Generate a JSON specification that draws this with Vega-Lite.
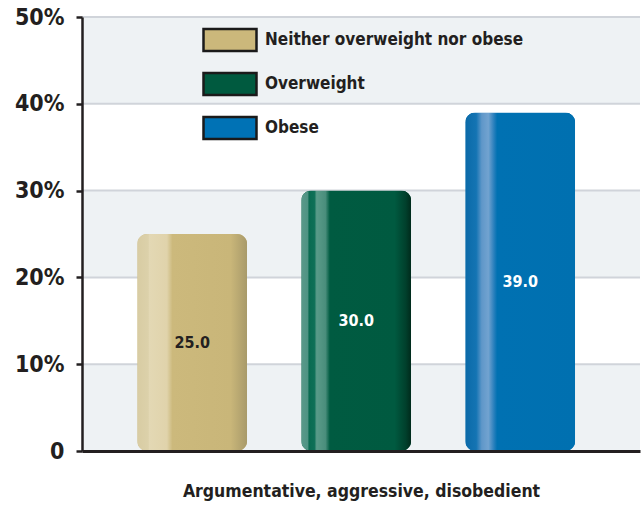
{
  "$schema": "https://vega.github.io/schema/vega-lite/v6.json",
  "width": 558,
  "height": 434,
  "autosize": "none",
  "padding": {"left": 82, "top": 17, "right": 2, "bottom": 58},
  "background": "white",
  "datasets": {
    "main": [
      {"category": "Neither overweight nor obese", "value": 25.0},
      {"category": "Overweight", "value": 30.0},
      {"category": "Obese", "value": 39.0}
    ],
    "bands": [
      {"lo": 0, "hi": 10},
      {"lo": 20, "hi": 30},
      {"lo": 40, "hi": 50}
    ],
    "grid": [{"g": 10}, {"g": 20}, {"g": 30}, {"g": 40}, {"g": 50}]
  },
  "config": {
    "view": {"stroke": null},
    "font": "DejaVu Sans Condensed, Open Sans, sans-serif",
    "legend": {
      "orient": "none",
      "legendX": 120,
      "legendY": -5,
      "symbolType": "M-1,-0.415H1V0.415H-1Z",
      "symbolSize": 2809,
      "symbolStrokeColor": "#1a1a1a",
      "symbolStrokeWidth": 2.5,
      "symbolOpacity": 1,
      "labelFont": "DejaVu Sans Condensed, Open Sans, sans-serif",
      "labelFontSize": 17,
      "labelFontWeight": "bold",
      "labelColor": "#231f20",
      "labelOffset": 7,
      "labelLimit": 400,
      "rowPadding": -10
    }
  },
  "layer": [
    {
      "data": {"name": "bands"},
      "mark": {"type": "rect", "color": "#eef2f4"},
      "encoding": {
        "y": {"field": "lo", "type": "quantitative"},
        "y2": {"field": "hi"}
      }
    },
    {
      "data": {"name": "grid"},
      "mark": {"type": "rule", "color": "#d0d4da", "strokeWidth": 2},
      "encoding": {
        "y": {"field": "g", "type": "quantitative"}
      }
    },
    {
      "data": {"name": "main"},
      "mark": {"type": "bar", "cornerRadius": 10},
      "encoding": {
        "x": {
          "field": "category",
          "type": "nominal",
          "sort": null,
          "scale": {"paddingInner": 0.33, "paddingOuter": 0.366, "align": 0.46},
          "axis": {
            "title": "Argumentative, aggressive, disobedient",
            "titleFont": "DejaVu Sans Condensed, Open Sans, sans-serif",
            "titleFontSize": 17.5,
            "titleFontWeight": "bold",
            "titleColor": "#231f20",
            "titlePadding": 31,
            "labels": false,
            "ticks": false,
            "domainColor": "#231f20",
            "domainWidth": 3,
            "zindex": 1
          }
        },
        "y": {
          "field": "value",
          "type": "quantitative",
          "scale": {"domain": [0, 50]},
          "axis": {
            "title": null,
            "values": [0, 10, 20, 30, 40, 50],
            "labelExpr": "datum.value == 0 ? '0' : datum.value + '%'",
            "labelFont": "DejaVu Sans Condensed, Open Sans, sans-serif",
            "labelFontSize": 23,
            "labelFontWeight": "bold",
            "labelColor": "#231f20",
            "labelPadding": 12,
            "grid": false,
            "domainColor": "#231f20",
            "domainWidth": 2.5,
            "tickColor": "#231f20",
            "tickWidth": 2.5,
            "tickSize": 6,
            "zindex": 1
          }
        },
        "color": {
          "field": "category",
          "type": "nominal",
          "sort": null,
          "scale": {
            "domain": ["Neither overweight nor obese", "Overweight", "Obese"],
            "range": ["#cbb87b", "#005a3f", "#0072b5"]
          },
          "legend": {"title": null}
        }
      }
    },
    {
      "data": {"name": "main"},
      "transform": [{"filter": "datum.category === 'Neither overweight nor obese'"}],
      "mark": {
        "type": "bar",
        "cornerRadius": 10,
        "color": {
          "gradient": "linear", "x1": 0, "x2": 1, "y1": 0, "y2": 0,
          "stops": [
            {"offset": 0, "color": "#d8cca3"},
            {"offset": 0.1, "color": "#dcd1aa"},
            {"offset": 0.11, "color": "#e3d8b4"},
            {"offset": 0.27, "color": "#e0d3ab"},
            {"offset": 0.32, "color": "#ccb97c"},
            {"offset": 0.85, "color": "#c9b679"},
            {"offset": 1, "color": "#a89a6a"}
          ]
        }
      },
      "encoding": {
        "x": {"field": "category", "type": "nominal", "sort": null},
        "y": {"field": "value", "type": "quantitative"}
      }
    },
    {
      "data": {"name": "main"},
      "transform": [{"filter": "datum.category === 'Overweight'"}],
      "mark": {
        "type": "bar",
        "cornerRadius": 10,
        "color": {
          "gradient": "linear", "x1": 0, "x2": 1, "y1": 0, "y2": 0,
          "stops": [
            {"offset": 0, "color": "#5a998a"},
            {"offset": 0.06, "color": "#4f9383"},
            {"offset": 0.07, "color": "#0a6b51"},
            {"offset": 0.12, "color": "#0f7057"},
            {"offset": 0.14, "color": "#5a9b89"},
            {"offset": 0.22, "color": "#4a8e7c"},
            {"offset": 0.26, "color": "#005b41"},
            {"offset": 0.85, "color": "#005a40"},
            {"offset": 0.95, "color": "#00402c"},
            {"offset": 1, "color": "#002a1b"}
          ]
        }
      },
      "encoding": {
        "x": {"field": "category", "type": "nominal", "sort": null},
        "y": {"field": "value", "type": "quantitative"}
      }
    },
    {
      "data": {"name": "main"},
      "transform": [{"filter": "datum.category === 'Obese'"}],
      "mark": {
        "type": "bar",
        "cornerRadius": 10,
        "color": {
          "gradient": "linear", "x1": 0, "x2": 1, "y1": 0, "y2": 0,
          "stops": [
            {"offset": 0, "color": "#0b6aa8"},
            {"offset": 0.1, "color": "#1474b3"},
            {"offset": 0.15, "color": "#5f97c9"},
            {"offset": 0.21, "color": "#72a3d0"},
            {"offset": 0.26, "color": "#2a80bd"},
            {"offset": 0.29, "color": "#0071b2"},
            {"offset": 1, "color": "#0070b0"}
          ]
        }
      },
      "encoding": {
        "x": {"field": "category", "type": "nominal", "sort": null},
        "y": {"field": "value", "type": "quantitative"}
      }
    },
    {
      "data": {"name": "main"},
      "transform": [{"calculate": "datum.value / 2", "as": "mid"}],
      "mark": {"type": "text", "font": "DejaVu Sans Condensed, Open Sans, sans-serif", "fontSize": 16, "fontWeight": "bold", "baseline": "middle", "align": "center"},
      "encoding": {
        "x": {"field": "category", "type": "nominal", "sort": null},
        "y": {"field": "mid", "type": "quantitative"},
        "text": {"field": "value", "type": "quantitative", "format": ".1f"},
        "color": {
          "condition": {"test": "datum.category === 'Neither overweight nor obese'", "value": "#231f20"},
          "value": "white"
        }
      }
    }
  ]
}
